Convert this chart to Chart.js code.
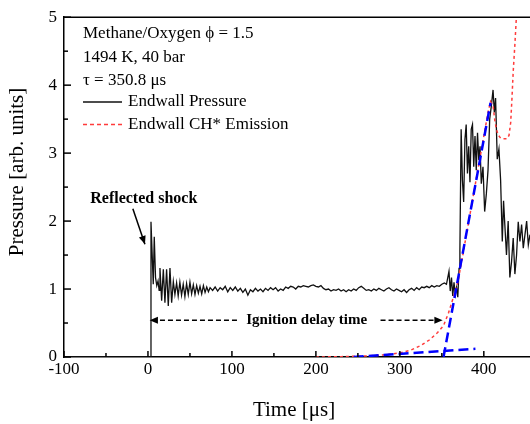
<!DOCTYPE html>
<html>
<head>
<meta charset="utf-8">
<script src="https://cdn.jsdelivr.net/npm/chart.js@4.4.0/dist/chart.umd.min.js"></script>
<style>
  body { margin: 0; background: #fff; }
  #wrap { width: 530px; height: 424px; }
</style>
</head>
<body>
<div id="wrap"><canvas id="myChart" width="530" height="424"></canvas></div>
<script>
// endwall pressure, time in us
const pressureTime = [-100, 3, 3.6, 6.3, 7.5, 9, 10.5, 12, 13.3, 14.3, 16.3, 18.3, 20.2, 22.2, 24.2, 26.2, 28.2, 30.2, 32.1, 34.1,
  36, 38, 40, 42, 44, 46, 48, 50, 52, 54, 56, 58, 60, 62, 64, 66, 68, 70, 72, 74,
  77, 80, 83, 86, 89, 92, 95, 98, 101, 104, 107, 110, 113, 116, 119, 122, 125, 128, 131, 134,
  137, 140, 143, 146, 149, 152, 155, 158, 161, 164, 167, 170, 173, 176, 179, 182, 185, 188, 191, 194,
  197, 200, 203, 206, 209, 212, 215, 218, 221, 224, 227, 230, 233, 236, 239, 242, 245, 248, 251, 254,
  257, 260, 263, 266, 269, 272, 275, 278, 281, 284, 287, 290, 293, 296, 299, 302, 305, 308, 311, 314,
  317, 320, 323, 326, 329, 332, 335, 338, 341, 344, 347, 350, 353, 355.5, 358.5, 360, 361.5, 363, 364.5, 366,
  367.5, 369, 370.5, 371.5, 373, 374.5, 376, 377.5, 379, 380.5, 382, 383.5, 385, 386.5, 388, 389.5, 391, 392.5, 394, 395.5,
  397, 399, 401, 403, 405, 407, 409, 411, 412.5, 414, 416, 418, 420, 422, 423.5, 425, 427, 429, 431, 433,
  435, 437, 439, 441, 443, 445, 447, 449, 451, 453, 455];
const pressureValue = [0, 0, 1.99, 1.07, 1.77, 1.17, 1.05, 1.12, 0.98, 1.31, 0.83, 1.29, 0.8, 1.29, 0.75, 1.31, 0.8, 1.11, 0.92, 1.09,
  0.9, 1.1, 0.91, 1.07, 0.89, 1.08, 0.92, 1.1, 0.93, 1.06, 0.92, 1.05, 0.94, 1.04, 0.93, 1.05, 0.95, 1.03, 0.96, 1.02,
  0.98, 1.03, 0.97, 1.02, 0.99, 1.04, 0.96, 1.02, 0.98, 1.03, 0.97, 1.01, 0.95, 1.0, 0.91, 0.99, 0.96, 1.01, 0.97, 1.0,
  0.96, 1.01, 0.98, 1.02, 0.99, 1.02, 0.97, 1.0, 0.98, 1.03, 1.01, 1.04, 1.03, 1.0, 1.04, 1.03, 1.05, 1.04, 1.03, 1.05,
  1.06, 1.04, 1.03, 1.05, 1.01, 0.99, 1.0, 0.97, 0.99, 0.98, 1.0, 0.97, 0.99, 0.96, 0.99, 0.97, 1.0, 0.98, 1.02, 1.04,
  1.01, 0.98, 0.99, 0.97, 1.0, 0.98, 1.01, 0.99, 0.97, 1.0, 1.02, 0.99, 0.97, 1.0, 0.98, 0.96, 0.99, 0.95, 0.99, 1.01,
  0.98, 1.02, 0.99, 1.03, 1.02, 1.04, 1.02, 1.05, 1.03, 1.05, 1.04, 1.07, 1.09, 1.07, 1.26, 0.97, 1.17, 0.9, 1.1, 0.92,
  1.02, 0.88, 1.3, 1.56, 3.35, 2.6, 2.28, 3.2, 3.42, 2.7, 3.1, 2.57, 3.35, 3.42, 2.8, 3.25, 2.75, 3.3, 2.9, 3.1,
  2.55, 2.8, 2.14, 2.4, 2.75, 3.5, 3.7, 3.93, 3.6, 3.81, 2.91, 3.06, 2.6, 1.7, 2.3, 1.95, 1.5, 2.0, 1.17, 1.4,
  1.75, 1.22, 1.5, 1.99, 1.7, 1.95, 1.6, 1.8, 2.0, 1.65, 1.8];

// endwall CH* emission
const chTime = [200, 230, 260, 280, 300, 313, 325, 335, 345, 352, 358, 363, 369, 375, 380, 385, 390, 395, 400, 405,
  408, 411, 413, 415, 417, 420, 423, 427, 430, 432, 433.5, 435, 437, 439, 441];
const chValue = [0, 0.005, 0.015, 0.03, 0.06, 0.1, 0.17, 0.25, 0.36, 0.46, 0.65, 0.85, 1.1, 1.5, 1.85, 2.2, 2.55, 2.9, 3.25, 3.6,
  3.76, 3.7, 3.49, 3.35, 3.27, 3.22, 3.21, 3.21, 3.26, 3.45, 3.8, 4.2, 4.6, 5.05, 5.4];

// tangent lines used for the ignition delay
const riseTime = [352, 408];
const riseValue = [0, 3.74];
const baseTime = [245, 390];
const baseValue = [0, 0.12];

const xMajor = [-100, 0, 100, 200, 300, 400];
const yMajor = [0, 1, 2, 3, 4, 5];
const headerLines = ["Methane/Oxygen ϕ = 1.5", "1494 K, 40 bar", "τ = 350.8 μs"];
const seriesNames = ["Endwall Pressure", "Endwall CH* Emission"];

const serif = "'Liberation Serif', 'Times New Roman', serif";
const pairs = (xs, ys) => xs.map((x, i) => ({ x: x, y: ys[i] }));

function arrowHead(ctx, x1, y1, x2, y2, size) {
  const a = Math.atan2(y2 - y1, x2 - x1);
  ctx.beginPath();
  ctx.moveTo(x2, y2);
  ctx.lineTo(x2 - size * Math.cos(a - 0.4), y2 - size * Math.sin(a - 0.4));
  ctx.lineTo(x2 - size * Math.cos(a + 0.4), y2 - size * Math.sin(a + 0.4));
  ctx.closePath();
  ctx.fill();
}

const extras = {
  id: 'extras',
  afterDraw(chart) {
    const ctx = chart.ctx;
    const a = chart.chartArea;
    const x = chart.scales.x, y = chart.scales.y;
    ctx.save();
    ctx.strokeStyle = '#000';
    ctx.fillStyle = '#000';
    ctx.lineWidth = 1.5;

    // top frame
    ctx.beginPath();
    ctx.moveTo(a.left, a.top);
    ctx.lineTo(a.right, a.top);
    ctx.stroke();

    // inward ticks
    x.ticks.forEach(t => {
      const px = x.getPixelForValue(t.value);
      const len = xMajor.includes(t.value) ? 6 : 4;
      ctx.beginPath();
      ctx.moveTo(px, a.bottom);
      ctx.lineTo(px, a.bottom - len);
      ctx.stroke();
    });
    y.ticks.forEach(t => {
      const py = y.getPixelForValue(t.value);
      const len = yMajor.includes(t.value) ? 7 : 4;
      ctx.beginPath();
      ctx.moveTo(a.left, py);
      ctx.lineTo(a.left + len, py);
      ctx.stroke();
    });

    // axis titles
    ctx.font = '21px ' + serif;
    ctx.textAlign = 'center';
    ctx.textBaseline = 'middle';
    ctx.fillText('Time [μs]', 294, 410);
    ctx.save();
    ctx.translate(17, 172);
    ctx.rotate(-Math.PI / 2);
    ctx.fillText('Pressure [arb. units]', 0, 0);
    ctx.restore();

    // header + legend
    ctx.font = '17px ' + serif;
    ctx.textAlign = 'left';
    const lx = a.left + 19;
    headerLines.forEach((s, i) => ctx.fillText(s, lx, 34 + i * 23.5));
    const ds = chart.data.datasets;
    [ds[2], ds[1]].forEach((d, i) => {
      const ly = 102 + i * 22.5;
      ctx.save();
      ctx.strokeStyle = d.borderColor;
      ctx.lineWidth = 1.3;
      ctx.setLineDash(i === 0 ? [] : [4, 3]);
      ctx.beginPath();
      ctx.moveTo(lx, ly);
      ctx.lineTo(lx + 39, ly);
      ctx.stroke();
      ctx.restore();
      ctx.fillText(seriesNames[i], lx + 45, ly);
    });

    // reflected shock note
    ctx.font = 'bold 16px ' + serif;
    ctx.textAlign = 'center';
    ctx.fillText('Reflected shock', x.getPixelForValue(-5), y.getPixelForValue(2.33));
    const ax1 = x.getPixelForValue(-18), ay1 = y.getPixelForValue(2.18);
    const ax2 = x.getPixelForValue(-3.6), ay2 = y.getPixelForValue(1.66);
    ctx.lineWidth = 1.5;
    ctx.beginPath();
    ctx.moveTo(ax1, ay1);
    ctx.lineTo(ax2, ay2);
    ctx.stroke();
    arrowHead(ctx, ax1, ay1, ax2, ay2, 9);

    // ignition delay double arrow
    const iy = y.getPixelForValue(0.54);
    ctx.font = 'bold 15px ' + serif;
    ctx.fillText('Ignition delay time', x.getPixelForValue(189), iy);
    const l0 = x.getPixelForValue(2), l1 = x.getPixelForValue(106);
    const r0 = x.getPixelForValue(277), r1 = x.getPixelForValue(351);
    ctx.setLineDash([5, 3]);
    ctx.beginPath();
    ctx.moveTo(l1, iy); ctx.lineTo(l0 + 6, iy);
    ctx.moveTo(r0, iy); ctx.lineTo(r1 - 6, iy);
    ctx.stroke();
    ctx.setLineDash([]);
    arrowHead(ctx, l1, iy, l0, iy, 9);
    arrowHead(ctx, r0, iy, r1, iy, 9);
    ctx.restore();
  }
};

const config = {
  type: 'line',
  data: {
    datasets: [
      { label: 'rise', data: pairs(riseTime, riseValue), borderColor: '#0000ff', borderWidth: 2.5,
        borderDash: [10, 5], pointRadius: 0, order: 0 },
      { label: seriesNames[1], data: pairs(chTime, chValue), borderColor: '#ff3b3b', borderWidth: 1.5,
        borderDash: [3, 3], pointRadius: 0, order: 1 },
      { label: seriesNames[0], data: pairs(pressureTime, pressureValue), borderColor: '#111', borderWidth: 1.3,
        pointRadius: 0, order: 2 },
      { label: 'base', data: pairs(baseTime, baseValue), borderColor: '#0000ff', borderWidth: 2.5,
        borderDash: [10, 5], pointRadius: 0, order: 0 }
    ]
  },
  options: {
    responsive: false,
    animation: false,
    layout: { padding: { top: 13, left: 0, right: 0, bottom: 0 } },
    plugins: { legend: { display: false }, tooltip: { enabled: false } },
    scales: {
      x: {
        type: 'linear', min: -100, max: 455,
        grid: { display: false, drawTicks: false },
        border: { display: true, color: '#000', width: 1.5 },
        ticks: {
          stepSize: 50, autoSkip: false, maxRotation: 0, padding: 2, color: '#000',
          font: { family: serif, size: 17 },
          callback: v => xMajor.includes(v) ? String(v) : ''
        },
        afterBuildTicks: s => { s.ticks = s.ticks.filter(t => t.value % 50 === 0); },
        afterFit: s => { s.height = 67; }
      },
      y: {
        min: 0, max: 5,
        grid: { display: false, drawTicks: false },
        border: { display: true, color: '#000', width: 1.5 },
        ticks: {
          stepSize: 0.5, autoSkip: false, padding: 7, color: '#000',
          font: { family: serif, size: 17 },
          callback: v => yMajor.includes(v) ? String(v) : ''
        },
        afterFit: s => { s.width = 64; }
      }
    }
  },
  plugins: [extras]
};

const myChart = new Chart(document.getElementById('myChart'), config);
</script>
</body>
</html>
